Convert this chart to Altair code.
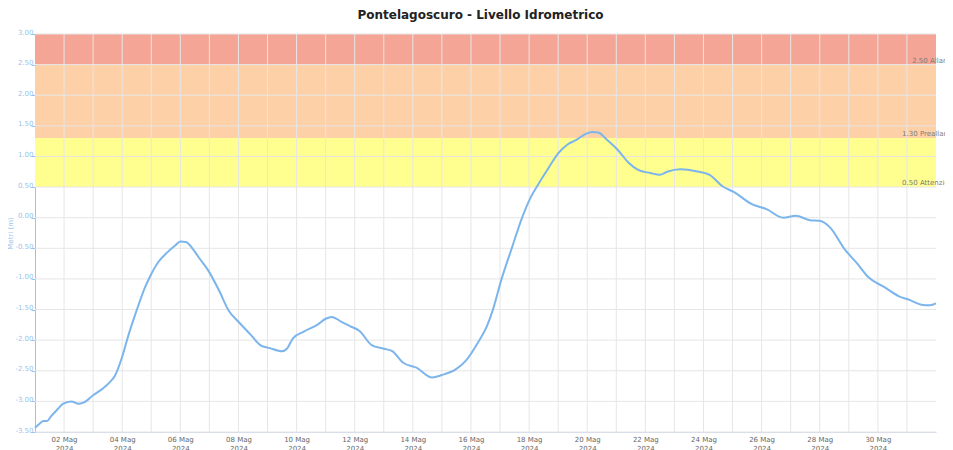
import altair as alt
import pandas as pd

# ---- data ----
times = [
    "2024-05-01T00:00", "2024-05-01T04:00", "2024-05-01T07:00", "2024-05-01T10:00",
    "2024-05-01T13:00", "2024-05-01T19:00", "2024-05-01T23:00", "2024-05-02T06:00",
    "2024-05-02T12:00", "2024-05-02T16:00", "2024-05-03T00:00", "2024-05-03T08:00",
    "2024-05-03T14:00", "2024-05-03T18:00", "2024-05-04T00:00", "2024-05-04T05:00",
    "2024-05-04T12:00", "2024-05-04T19:00", "2024-05-04T23:00", "2024-05-05T06:00",
    "2024-05-05T13:00", "2024-05-05T20:00", "2024-05-06T00:00", "2024-05-06T05:00",
    "2024-05-06T11:00", "2024-05-06T16:00", "2024-05-06T23:00", "2024-05-07T08:00",
    "2024-05-07T16:00", "2024-05-08T00:00", "2024-05-08T10:00", "2024-05-08T18:00",
    "2024-05-09T02:00", "2024-05-09T12:00", "2024-05-09T16:00", "2024-05-09T21:00",
    "2024-05-10T06:00", "2024-05-10T17:00", "2024-05-11T00:00", "2024-05-11T05:00",
    "2024-05-11T13:00", "2024-05-11T20:00", "2024-05-12T04:00", "2024-05-12T14:00",
    "2024-05-13T00:00", "2024-05-13T07:00", "2024-05-13T16:00", "2024-05-14T03:00",
    "2024-05-14T16:00", "2024-05-15T00:00", "2024-05-15T12:00", "2024-05-15T20:00",
    "2024-05-16T06:00", "2024-05-16T13:00", "2024-05-16T18:00", "2024-05-17T01:00",
    "2024-05-17T10:00", "2024-05-17T18:00", "2024-05-18T01:00", "2024-05-18T08:00",
    "2024-05-18T16:00", "2024-05-19T00:00", "2024-05-19T08:00", "2024-05-19T15:00",
    "2024-05-19T21:00", "2024-05-20T04:00", "2024-05-20T09:00", "2024-05-20T17:00",
    "2024-05-21T02:00", "2024-05-21T10:00", "2024-05-21T18:00", "2024-05-22T04:00",
    "2024-05-22T12:00", "2024-05-22T18:00", "2024-05-23T05:00", "2024-05-23T18:00",
    "2024-05-24T05:00", "2024-05-24T16:00", "2024-05-25T01:00", "2024-05-25T16:00",
    "2024-05-26T04:00", "2024-05-26T18:00", "2024-05-27T04:00", "2024-05-27T16:00",
    "2024-05-28T00:00", "2024-05-28T09:00", "2024-05-28T20:00", "2024-05-29T07:00",
    "2024-05-29T16:00", "2024-05-30T05:00", "2024-05-30T17:00", "2024-05-31T03:00",
    "2024-05-31T12:00", "2024-05-31T19:00", "2024-06-01T00:00",
]
levels = [
    -3.43, -3.36, -3.32, -3.32,
    -3.25, -3.12, -3.04, -3.00,
    -3.04, -3.02, -2.90, -2.79,
    -2.68, -2.58, -2.27, -1.93,
    -1.51, -1.13, -0.96, -0.72,
    -0.57, -0.45, -0.39, -0.40,
    -0.53, -0.67, -0.86, -1.19,
    -1.52, -1.70, -1.91, -2.08,
    -2.13, -2.18, -2.14, -1.97,
    -1.86, -1.75, -1.65, -1.62,
    -1.70, -1.77, -1.85, -2.08,
    -2.14, -2.18, -2.37, -2.45,
    -2.61, -2.57, -2.47, -2.33,
    -2.03, -1.78, -1.51, -1.02,
    -0.48, -0.01, 0.32, 0.56,
    0.81, 1.05, 1.20, 1.27,
    1.35, 1.40, 1.39, 1.26,
    1.09, 0.90, 0.78, 0.73,
    0.70, 0.75, 0.79, 0.76,
    0.70, 0.51, 0.42, 0.22,
    0.14, 0.00, 0.03, -0.04,
    -0.05, -0.17, -0.50, -0.75,
    -0.97, -1.13, -1.28, -1.35,
    -1.42, -1.43, -1.40,
]

band_low = [0.5, 1.3, 2.5]
band_high = [1.3, 2.5, 3.0]
band_colors = ["#ffff90", "#fed0a8", "#f4a596"]
threshold_values = [0.5, 1.3, 2.5]
threshold_texts = ["0.50 Attenzione", "1.30 Preallarme", "2.50 Allarme"]
threshold_anchor = ["2024-05-30T20:00", "2024-05-30T20:00", "2024-05-31T04:20"]

period_start = "2024-05-01T00:00"
period_end = "2024-06-01T00:00"
day_ticks = [f"2024-05-{d:02d}T00:00" for d in range(2, 32)]
y_ticks = [-3.5, -3.0, -2.5, -2.0, -1.5, -1.0, -0.5, 0.0, 0.5, 1.0, 1.5, 2.0, 2.5, 3.0]

FONT = "DejaVu Sans"
BLUE = "#7cb5ec"
LIGHT_BLUE = "#99c3ee"

series = pd.DataFrame({"t": times, "v": levels})
bands = pd.DataFrame({
    "start": [period_start] * 3, "end": [period_end] * 3,
    "lo": band_low, "hi": band_high, "color": band_colors,
})
thresholds = pd.DataFrame({"t": threshold_anchor, "v": threshold_values, "label": threshold_texts})
xgrid = pd.DataFrame({"t": day_ticks})
ygrid = pd.DataFrame({"v": y_ticks})

x_scale = alt.Scale(domain=[alt.DateTime(year=2024, month=5, date=1),
                            alt.DateTime(year=2024, month=6, date=1)])
y_scale = alt.Scale(domain=[-3.5, 3.0], nice=False, zero=False)

x_axis = alt.Axis(
    title=None, grid=False, ticks=False,
    tickCount=alt.TimeIntervalStep(interval="day", step=1),
    labelExpr="date(datum.value) % 2 == 0 ? [timeFormat(datum.value, '%d') + ' Mag', '2024'] : ''",
    labelFont=FONT, labelFontSize=7, labelColor="#666666", labelLineHeight=9,
    labelPadding=3, labelOverlap=False, labelFlush=False,
    domainColor="#ccd6eb", domainWidth=1,
)
y_axis = alt.Axis(
    title="Metri (m)", grid=False, values=y_ticks,
    labelExpr="replace(format(datum.value, '.2f'), '\u2212', '-')",
    labelFont=FONT, labelFontSize=7, labelColor=LIGHT_BLUE,
    labelBaseline="alphabetic", labelPadding=-2, labelAlign="right",
    labelOverlap=False, labelFlush=False, labelBound=False,
    tickSize=4, tickColor=LIGHT_BLUE, domainColor=LIGHT_BLUE, domainWidth=1,
    titleFont=FONT, titleFontSize=7, titleFontWeight="normal", titleColor=LIGHT_BLUE,
    titlePadding=1,
)


def X(field):
    return alt.X(field, scale=x_scale, axis=x_axis)


def Y(field):
    return alt.Y(field, scale=y_scale, axis=y_axis)


band_layer = alt.Chart(bands).mark_rect().encode(
    x=X("start:T"), x2="end:T",
    y=Y("lo:Q"), y2="hi:Q",
    fill=alt.Fill("color:N", scale=None),
)

xgrid_layer = alt.Chart(xgrid).mark_rule(color="#e6e6e6", strokeWidth=1).encode(x=X("t:T"))
ygrid_layer = alt.Chart(ygrid).mark_rule(color="#e6e6e6", strokeWidth=1).encode(y=Y("v:Q"))

label_layer = alt.Chart(thresholds).mark_text(
    align="left", baseline="alphabetic", dy=-2, font=FONT, fontSize=7, color="#807a74",
).encode(x=X("t:T"), y=Y("v:Q"), text="label:N")

line_layer = alt.Chart(series).mark_line(
    color=BLUE, strokeWidth=2, interpolate="monotone"
).encode(x=X("t:T"), y=Y("v:Q"))

chart = alt.layer(band_layer, xgrid_layer, ygrid_layer, label_layer, line_layer).properties(
    width=901, height=398,
    title=alt.TitleParams(
        "Pontelagoscuro - Livello Idrometrico",
        font=FONT, fontSize=12, fontWeight="bold", color="#222222",
        anchor="middle", offset=6, dx=-5,
    ),
    autosize=alt.AutoSizeParams(type="none"),
    padding={"left": 27, "top": 26, "right": 9, "bottom": 19},
).configure_view(stroke=None)

chart.save("out.html", embed_options={"renderer": "svg", "actions": False})
